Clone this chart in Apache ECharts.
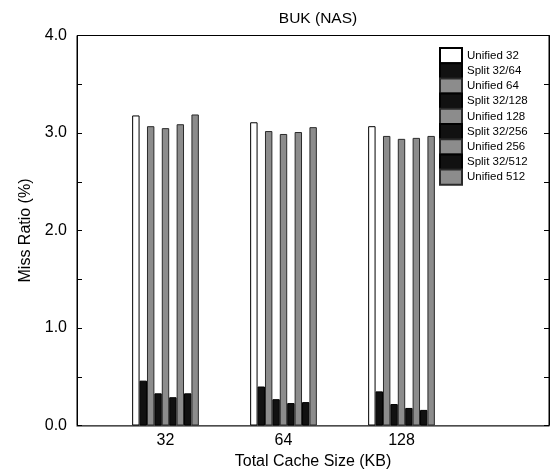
<!DOCTYPE html>
<html><head><meta charset="utf-8">
<script src="https://cdn.jsdelivr.net/npm/echarts@6/dist/echarts.min.js"></script>
<style>html,body{margin:0;padding:0;background:#fff}#c{width:556px;height:476px}</style>
</head><body><div id="c"></div>
<script>
const categories = ['32', '64', '128'];
const seriesNames = ['Unified 32','Split 32/64','Unified 64','Split 32/128','Unified 128','Split 32/256','Unified 256','Split 32/512','Unified 512'];
const unified32  = [3.18, 3.11, 3.07];
const split32_64 = [0.46, 0.40, 0.35];
const unified64  = [3.07, 3.02, 2.97];
const split32_128= [0.33, 0.27, 0.22];
const unified128 = [3.05, 2.99, 2.94];
const split32_256= [0.29, 0.23, 0.18];
const unified256 = [3.09, 3.01, 2.95];
const split32_512= [0.33, 0.24, 0.16];
const unified512 = [3.19, 3.06, 2.97];
const yTicks = ['0.0','1.0','2.0','3.0','4.0'];

const seriesValues = [unified32, split32_64, unified64, split32_128, unified128, split32_256, unified256, split32_512, unified512];
const xPos = categories.map(c => Math.log2(Number(c)));
const FONT = '"Liberation Sans", Arial, Helvetica, sans-serif';

function styleFor(i) {
  if (i === 0) return {color: '#ffffff', borderColor: '#000000', borderWidth: 1};
  if (i % 2 === 1) return {color: '#111111', borderColor: '#000000', borderWidth: 1};
  return {color: '#8c8c8c', borderColor: '#2a2a2a', borderWidth: 1};
}

const series = seriesValues.map((vals, i) => ({
  name: seriesNames[i],
  type: 'bar',
  xAxisIndex: 0, yAxisIndex: 0,
  barWidth: 7.41,
  barGap: '0%',
  itemStyle: styleFor(i),
  emphasis: {disabled: true},
  data: vals.map((v, k) => [xPos[k], v])
}));

const chart = echarts.init(document.getElementById('c'), null, {renderer: 'canvas'});
chart.setOption({
  animation: false,
  backgroundColor: '#ffffff',
  textStyle: {fontFamily: FONT, color: '#000'},
  title: {
    text: 'BUK (NAS)', left: 313, top: 6, textAlign: 'center',
    textStyle: {fontFamily: FONT, fontSize: 15.5, fontWeight: 'normal', color: '#000'}
  },
  grid: {left: 77, right: 7, top: 35.5, bottom: 50.5, show: true, borderColor: '#000', borderWidth: 1, backgroundColor: 'transparent'},
  legend: {
    orient: 'vertical', left: 439, top: 47, padding: 0,
    itemWidth: 22, itemHeight: 15.2, itemGap: -2,
    icon: 'rect',
    data: seriesNames,
    textStyle: {fontFamily: FONT, fontSize: 11.5, color: '#000', lineHeight: 13},
    selectedMode: false
  },
  xAxis: {
    type: 'value', min: 4.25, max: 8.25,
    name: 'Total Cache Size (KB)', nameLocation: 'middle', nameGap: 25,
    nameTextStyle: {fontFamily: FONT, fontSize: 16, color: '#000'},
    axisLine: {show: true, lineStyle: {color: '#666', width: 1.5}},
    axisTick: {show: false},
    splitLine: {show: false},
    axisLabel: {
      customValues: xPos, margin: 7,
      fontFamily: FONT, fontSize: 16, color: '#000',
      formatter: v => { const i = xPos.findIndex(p => Math.abs(p - v) < 1e-6); return i >= 0 ? categories[i] : ''; }
    }
  },
  yAxis: [{
    type: 'value', min: 0, max: 4, interval: 1,
    name: 'Miss Ratio (%)', nameLocation: 'middle', nameGap: 43,
    nameTextStyle: {fontFamily: FONT, fontSize: 16, color: '#000'},
    axisLine: {show: true, lineStyle: {color: '#000', width: 1}},
    axisTick: {show: true, inside: true, length: 5, lineStyle: {color: '#000'}},
    minorTick: {show: true, splitNumber: 2, length: 5, lineStyle: {color: '#000'}},
    splitLine: {show: false},
    axisLabel: {fontFamily: FONT, fontSize: 16, color: '#000', margin: 10, formatter: v => yTicks[Math.round(v)]}
  }, {
    type: 'value', min: 0, max: 4, interval: 1, position: 'right',
    axisLine: {show: true, lineStyle: {color: '#000', width: 1}},
    axisTick: {show: true, inside: true, length: 5, lineStyle: {color: '#000'}},
    minorTick: {show: true, splitNumber: 2, length: 5, lineStyle: {color: '#000'}},
    splitLine: {show: false},
    axisLabel: {show: false}
  }],
  series: series
});
</script></body></html>
